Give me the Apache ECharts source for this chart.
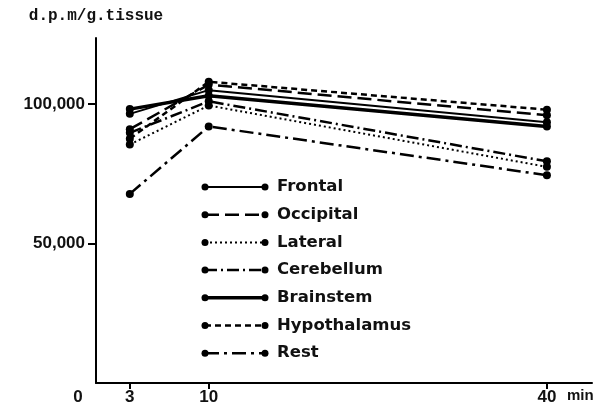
<!DOCTYPE html>
<html>
<head>
<meta charset="utf-8">
<script src="https://cdn.jsdelivr.net/npm/echarts@6/dist/echarts.min.js"></script>
<style>
  html, body { margin: 0; padding: 0; background: #fff; }
  #chart { width: 610px; height: 416px; }
</style>
</head>
<body>
<div id="chart"></div>
<script>
var times = [3, 10, 40];
var names = ['Frontal', 'Occipital', 'Lateral', 'Cerebellum', 'Brainstem', 'Hypothalamus', 'Rest'];
var frontal = [96500, 105000, 93500];
var occipital = [91000, 107000, 96000];
var lateral = [85500, 99500, 77500];
var cerebellum = [89700, 101000, 79500];
var brainstem = [98200, 103000, 92000];
var hypothalamus = [87600, 108000, 98000];
var rest = [67800, 92000, 74500];
var xTicks = [3, 10, 40];
var yTicks = [50000, 100000];

var values = [frontal, occipital, lateral, cerebellum, brainstem, hypothalamus, rest];
// line look per series
var dashes = ['solid', [14, 6], [2, 3], [12, 4, 2, 4], 'solid', [6, 4], [14, 5, 3, 5]];
var widths = [2, 2.5, 2, 2.5, 3.5, 2.5, 2.5];

var dom = document.getElementById('chart');
var myChart = echarts.init(dom);

function pairs(arr) {
    var out = [];
    for (var i = 0; i < times.length; i++) {
        out.push([times[i], arr[i]]);
    }
    return out;
}

var series = [];
var graphic = [];
for (var i = 0; i < names.length; i++) {
    series.push({
        name: names[i],
        type: 'line',
        data: pairs(values[i]),
        symbol: 'circle',
        symbolSize: 8,
        itemStyle: { color: '#000' },
        lineStyle: { color: '#000', width: widths[i], type: dashes[i] },
        z: 3
    });
    // hand made legend row: line with dots at both ends
    var cy = 187 + i * 27.7;
    graphic.push({
        type: 'line',
        shape: { x1: 205, y1: cy, x2: 265, y2: cy },
        style: { stroke: '#000', lineWidth: widths[i], lineDash: dashes[i] === 'solid' ? null : dashes[i] }
    });
    graphic.push({ type: 'circle', shape: { cx: 205, cy: cy, r: 3.5 }, style: { fill: '#000' } });
    graphic.push({ type: 'circle', shape: { cx: 265, cy: cy, r: 3.5 }, style: { fill: '#000' } });
    graphic.push({
        type: 'text',
        x: 277, y: cy,
        style: {
            text: names[i], fill: '#111', font: 'bold 16.5px "DejaVu Sans"',
            verticalAlign: 'middle'
        }
    });
}
graphic.push({
    type: 'text', x: 567, y: 396,
    style: { text: 'min', fill: '#111', font: 'bold 15px "Liberation Sans Narrow", "Liberation Sans"', verticalAlign: 'middle' }
});

option = {
    animation: false,
    grid: {
        left: 96,
        right: 18,
        top: 38,
        bottom: 33
    },
    xAxis: {
        type: 'value',
        min: 0,
        max: 44,
        splitLine: { show: false },
        axisLine: { lineStyle: { color: '#000', width: 2 } },
        axisTick: { customValues: xTicks, length: 6, lineStyle: { color: '#000', width: 2 } },
        axisLabel: {
            customValues: [0].concat(xTicks),
            margin: 6,
            color: '#111',
            fontFamily: 'Liberation Sans',
            fontWeight: 'bold',
            fontSize: 17,
            formatter: function (value) {
                return value === 0 ? '{z|0}' : String(value);
            },
            rich: {
                z: { padding: [0, 36, 0, 0], fontFamily: 'Liberation Sans', fontWeight: 'bold', fontSize: 17, color: '#111' }
            }
        }
    },
    yAxis: {
        type: 'value',
        min: 0,
        max: 123700,
        name: 'd.p.m/g.tissue',
        nameLocation: 'end',
        nameGap: 14,
        nameTextStyle: { color: '#111', fontFamily: 'Liberation Mono', fontWeight: 'bold', fontSize: 16 },
        splitLine: { show: false },
        axisLine: { show: true, lineStyle: { color: '#000', width: 2 } },
        axisTick: { show: true, customValues: yTicks, length: 8, lineStyle: { color: '#000', width: 2 } },
        axisLabel: {
            customValues: yTicks,
            margin: 11,
            color: '#111',
            fontFamily: 'Liberation Sans',
            fontWeight: 'bold',
            fontSize: 17,
            formatter: function (value) {
                return (value / 1000) + ',000';
            }
        }
    },
    graphic: graphic,
    series: series
};

if (option && typeof option === "object") {
    myChart.setOption(option, true);
}

window.onresize = function () {
    myChart.resize();
};
</script>
</body>
</html>
